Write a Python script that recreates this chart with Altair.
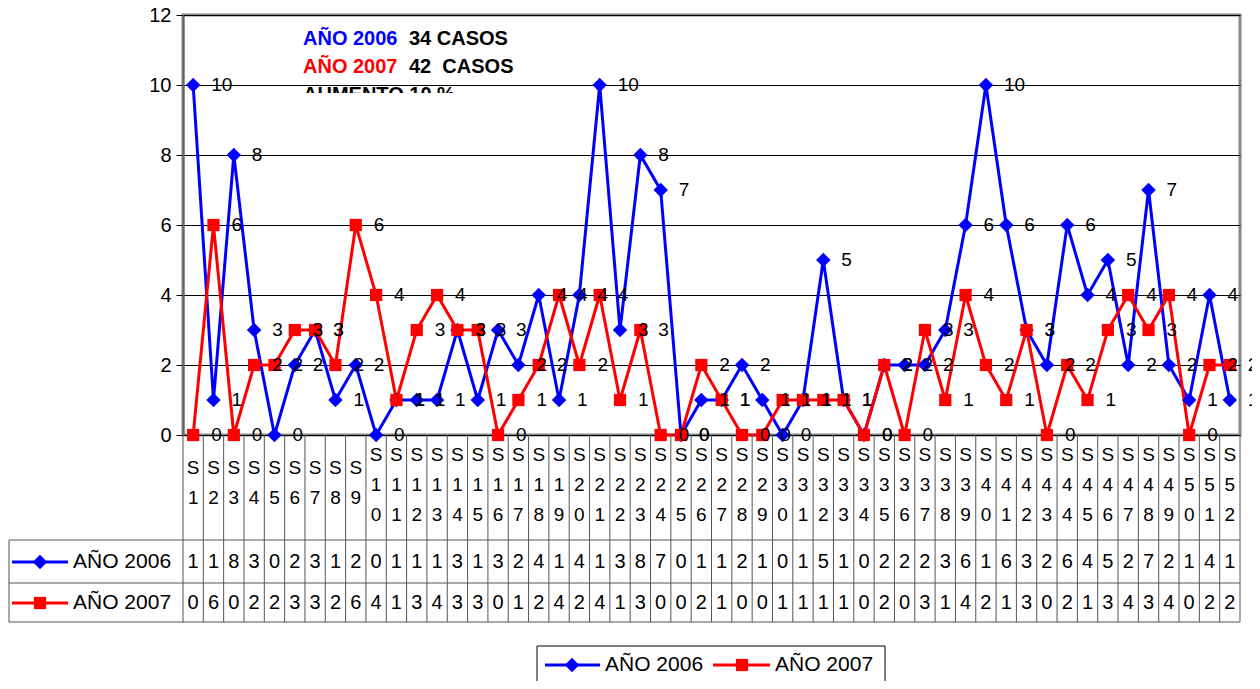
import altair as alt
import pandas as pd

FONT = "Liberation Sans"

# ---------------- data ----------------
weeks = [f"S{i}" for i in range(1, 53)]
serie_2006 = [10, 1, 8, 3, 0, 2, 3, 1, 2, 0, 1, 1, 1, 3, 1, 3, 2, 4, 1, 4,
              10, 3, 8, 7, 0, 1, 1, 2, 1, 0, 1, 5, 1, 0, 2, 2, 2, 3, 6, 10,
              6, 3, 2, 6, 4, 5, 2, 7, 2, 1, 4, 1]
serie_2007 = [0, 6, 0, 2, 2, 3, 3, 2, 6, 4, 1, 3, 4, 3, 3, 0, 1, 2, 4, 2,
              4, 1, 3, 0, 0, 2, 1, 0, 0, 1, 1, 1, 1, 0, 2, 0, 3, 1, 4, 2,
              1, 3, 0, 2, 1, 3, 4, 3, 4, 0, 2, 2]
series_names = ["AÑO 2006", "AÑO 2007"]
series_colors = ["#0000FF", "#FF0000"]
series_shapes = ["diamond", "square"]
series_sizes = [210, 150]
y_ticks = [0, 2, 4, 6, 8, 10, 12]

annot_years = ["AÑO 2006", "AÑO 2007"]
annot_cases = ["34 CASOS", "42\u00a0 CASOS"]
annot_extra = "AUMENTO 10 %"

# ---------------- tables ----------------
df = pd.DataFrame({
    "week": weeks * 2,
    "serie": [series_names[0]] * len(weeks) + [series_names[1]] * len(weeks),
    "v": serie_2006 + serie_2007,
})
wk = pd.DataFrame({
    "week": weeks,
    "lbl": ["S\n" + "\n".join(w[1:]) for w in weeks],
    "v06": serie_2006,
    "v07": serie_2007,
})
one = pd.DataFrame({"k": [0]})

xs = alt.Scale(type="band", domain=weeks, paddingInner=0, paddingOuter=0)
X = alt.X("week:N", scale=xs, axis=None)
Y = alt.Y("v:Q", scale=alt.Scale(domain=[0, 12]),
          axis=alt.Axis(values=y_ticks, grid=True, gridColor="black", gridWidth=1,
                        domainColor="#666666", domainWidth=2, tickColor="black",
                        tickSize=7, labelFontSize=20, labelColor="black",
                        labelFont=FONT, labelPadding=5, title=None))
color = alt.Color("serie:N", scale=alt.Scale(domain=series_names, range=series_colors), legend=None)
shape = alt.Shape("serie:N", scale=alt.Scale(domain=series_names, range=series_shapes), legend=None)
size = alt.Size("serie:N", scale=alt.Scale(domain=series_names, range=series_sizes), legend=None)

base = alt.Chart(df)
lines = base.mark_line(strokeWidth=3).encode(x=X, y=Y, color=color, detail="serie:N")
points = base.mark_point(filled=True, opacity=1).encode(x=X, y=Y, color=color, shape=shape, size=size)
labels = base.mark_text(align="left", baseline="middle", dx=18, fontSize=19, font=FONT,
                        color="black").encode(x=X, y=Y, text="v:Q")

# ---------------- data table below the plot ----------------
GRID = "#555555"
Xb = alt.X("week:N", scale=xs, axis=None, bandPosition=0)
vlines = alt.Chart(wk).mark_rule(color=GRID, strokeWidth=1).encode(
    x=Xb, y=alt.value(420), y2=alt.value(607))


def cat_layer(cond, ytop):
    return alt.Chart(wk).transform_filter(cond).mark_text(
        fontSize=19, font=FONT, lineBreak="\n", lineHeight=30, baseline="middle",
        color="black").encode(x=X, y=alt.value(ytop), text="lbl:N")


cat1 = cat_layer("length(datum.week) == 2", 453)
cat2 = cat_layer("length(datum.week) == 3", 440)
row06 = alt.Chart(wk).transform_calculate(t="substring(toString(datum.v06), 0, 1)").mark_text(
    fontSize=20, font=FONT, baseline="middle", color="black").encode(x=X, y=alt.value(547), text="t:N")
row07 = alt.Chart(wk).transform_calculate(t="substring(toString(datum.v07), 0, 1)").mark_text(
    fontSize=20, font=FONT, baseline="middle", color="black").encode(x=X, y=alt.value(588), text="t:N")


def hrule(x1, x2, yv, col=GRID, w=1):
    return alt.Chart(one).mark_rule(color=col, strokeWidth=w).encode(
        x=alt.value(x1), x2=alt.value(x2), y=alt.value(yv))


def vrule(xv, y1, y2, col=GRID, w=1):
    return alt.Chart(one).mark_rule(color=col, strokeWidth=w).encode(
        x=alt.value(xv), y=alt.value(y1), y2=alt.value(y2))


def sym(xv, yv, i):
    return alt.Chart(one).mark_point(filled=True, opacity=1, shape=series_shapes[i],
                                     size=series_sizes[i], color=series_colors[i]).encode(
        x=alt.value(xv), y=alt.value(yv))


def txt(xv, yv, s, col="black", bold=False, size=20, baseline="middle"):
    return alt.Chart(one).mark_text(text=s, align="left", baseline=baseline, fontSize=size,
                                    font=FONT, color=col,
                                    fontWeight="bold" if bold else "normal").encode(
        x=alt.value(xv), y=alt.value(yv))


deco = [
    vlines,
    vrule(1057, 420, 607),
    hrule(-174, 1057, 525), hrule(-174, 1057, 568), hrule(-174, 1057, 607),
    vrule(-174, 525, 607),
    # legend cells in table
    hrule(-171, -115, 547, series_colors[0], 3), sym(-143, 547, 0), txt(-110, 547, series_names[0], size=21),
    hrule(-171, -115, 588, series_colors[1], 3), sym(-143, 588, 1), txt(-110, 588, series_names[1], size=21),
    # bottom legend
    hrule(354, 702, 631, "black", 1), vrule(354, 631, 700, "black", 1), vrule(702, 631, 700, "black", 1),
    hrule(362, 417, 650, series_colors[0], 3), sym(389, 650, 0), txt(422, 650, series_names[0], size=21),
    hrule(530, 587, 650, series_colors[1], 3), sym(559, 650, 1), txt(592, 650, series_names[1], size=21),
    # annotation
    txt(120, 30, annot_years[0], series_colors[0], True, 20, "alphabetic"),
    txt(226, 30, annot_cases[0], "black", True, 20, "alphabetic"),
    txt(120, 58, annot_years[1], series_colors[1], True, 20, "alphabetic"),
    txt(226, 58, annot_cases[1], "black", True, 20, "alphabetic"),
    txt(120, 86, annot_extra, "black", True, 20, "alphabetic"),
    alt.Chart(one).mark_rect(color="white").encode(
        x=alt.value(110), x2=alt.value(320), y=alt.value(78), y2=alt.value(100)),
]

chart = alt.layer(lines, points, labels, cat1, cat2, row06, row07, *deco).properties(
    width=1057, height=420,
    autosize=alt.AutoSizeParams(type="none"),
    padding={"left": 175, "top": 7, "right": 12, "bottom": 246},
).configure_view(stroke="#888888", strokeWidth=3)

chart.save("out.html", embed_options={"renderer": "svg", "actions": False})
